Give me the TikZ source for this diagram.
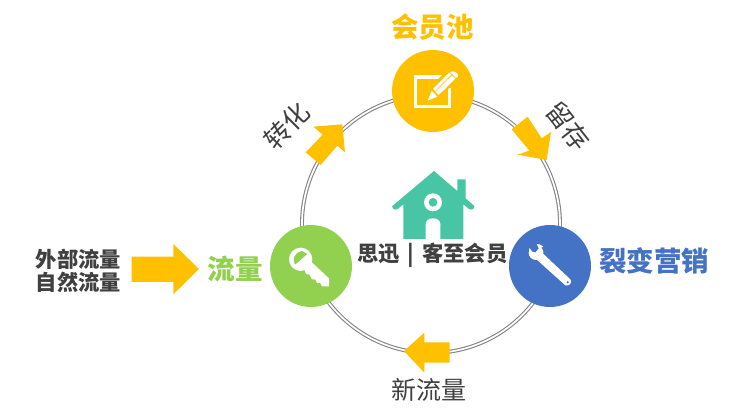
\documentclass[tikz,border=0pt]{standalone}
\usepackage{fontspec}
\setmainfont{Noto Sans CJK SC}
\definecolor{amberc}{HTML}{FFC000}
\definecolor{greenc}{HTML}{92D050}
\definecolor{bluec}{HTML}{4472C4}
\definecolor{tealc}{HTML}{47C5A5}
\definecolor{darktxt}{HTML}{404040}
\definecolor{ringc}{HTML}{858585}
\tikzset{
  hub/.style={circle,draw=none,minimum size=82pt,inner sep=0pt},
  flowarrow/.style={fill=amberc,draw=none},
  lbl/.style={inner sep=0pt,text=darktxt},
  headlbl/.style={inner sep=0pt,font=\bfseries\fontsize{27.5}{30}\selectfont},
  icon/.style={fill=white,draw=none}
}
\begin{document}
\begin{tikzpicture}[x=1pt,y=-1pt]
\useasboundingbox[fill=white] (0,0) rectangle (740,414);
% ring
\coordinate (ringc) at (431,224);
\draw[ringc,line width=3.9pt] (ringc) circle[radius=129];
\draw[white,line width=1.7pt] (ringc) circle[radius=129];
% hubs
\node[hub,fill=amberc] (top) at (433,91) {};
\node[hub,fill=greenc] (left) at (311,266) {};
\node[hub,fill=bluec] (right) at (550,266) {};
% arrows
\begin{scope}[shift={(250,0)},scale=0.33333]
  \fill[flowarrow] (277,373) -- (285,457) -- (262,437) -- (212,495) -- (167,457) -- (218,404) -- (190,380) -- cycle;
  \fill[flowarrow] (833,350) -- (785,388) -- (838,452) -- (803,464) -- (890,480) -- (903,396) -- (875,415) -- cycle;
\end{scope}
\begin{scope}[shift={(380,220)},scale=0.33333]
  \fill[flowarrow] (72,393) -- (133,338) -- (133,367) -- (209,367) -- (209,428) -- (133,428) -- (133,458) -- cycle;
\end{scope}
\begin{scope}[shift={(20,220)},scale=0.33333]
  \fill[flowarrow] (335,110) -- (460,110) -- (460,72) -- (537,147) -- (460,223) -- (460,186) -- (335,186) -- cycle;
\end{scope}
% pencil icon
\begin{scope}[shift={(250,0)},scale=0.33333]
  \draw[white,line width=3.6pt] (582,231) -- (496,231) -- (496,320) -- (599,320) -- (599,264);
  \fill[amberc] (526,308) -- (540,262) -- (606,196) -- (634,226) -- (570,292) -- cycle;
  \fill[icon] (533,302) -- (545,272) -- (562,290) -- cycle;
  \fill[icon] (549,267) -- (598,218) -- (604,224) -- (555,273) -- cycle;
  \fill[icon] (556,275) -- (606,226) -- (616,236) -- (566,285) -- cycle;
  \fill[icon] (600,216) -- (610,214) -- (622,220) -- (624,230) -- (618,234) -- cycle;
\end{scope}
% key icon
\begin{scope}[shift={(260,170)},scale=0.33333]
  \fill[icon] (122,268) circle[radius=35];
  \fill[greenc] (105,284) .. controls (96,268) and (102,248) .. (126,243) -- (142,252) -- cycle;
  \fill[icon] (128,285) -- (146,268) -- (207,325) -- (207,349) -- (186,349) -- (180,338) -- (172,340) -- (165,328) -- (156,328) -- (148,314) -- (138,312) -- cycle;
\end{scope}
% wrench icon
\begin{scope}[shift={(380,220)},scale=0.33333]
  \fill[icon] (468,98) circle[radius=22];
  \fill[icon] (466,115) -- (484,96) -- (571,178) .. controls (578,187) and (568,200) .. (556,196) -- cycle;
  \fill[bluec] (447,76) -- (470,71) -- (476,85) -- (466,97) -- (454,94) -- (441,97) -- cycle;
  \fill[icon] (470,72) .. controls (478,72) and (484,74) .. (490,80) -- (478,86) -- cycle;
  \fill[icon] (447,98) .. controls (447,92) and (447,88) .. (449,84) -- (458,98) -- cycle;
  \fill[bluec] (563,187) circle[radius=3.5];
\end{scope}
% house
\begin{scope}[shift={(260,170)},scale=0.33333]
  \fill[tealc]
    (522,3) -- (592,63) -- (592,28) -- (617,28) -- (617,85) -- (643,108)
    [rounded corners=1.5pt] -- (645,113) -- (632,121) [sharp corners] -- (610,103) -- (610,207)
    -- (541,207) -- (541,160) -- (497,160) -- (497,207) -- (430,207) -- (430,103)
    [rounded corners=1.5pt] -- (408,121) -- (395,113) [sharp corners] -- (397,108) -- cycle;
  \fill[white] (497,165) .. controls (497,150) and (506,145) .. (519,145) .. controls (532,145) and (541,150) .. (541,165) -- cycle;
  \fill[white] (519,97) circle[radius=27];
  \fill[tealc] (519,97) circle[radius=13];
\end{scope}
% labels
\node[headlbl,text=amberc] (ltop) at (432.5,27) {会员池};
\node[headlbl,text=bluec] (lright) at (654,261) {裂变营销};
\node[headlbl,text=greenc] (lleft) at (235,269) {流量};
\node[lbl,font=\bfseries\fontsize{21.3}{24}\selectfont] (lext1) at (78.5,259) {外部流量};
\node[lbl,font=\bfseries\fontsize{21.3}{24}\selectfont] (lext2) at (78.5,282) {自然流量};
\node[lbl,font=\fontsize{25}{28}\selectfont] (lnew) at (429,390) {新流量};
\node[lbl,rotate=45,font=\fontsize{26}{28}\selectfont] (lconv) at (287,126) {转化};
\node[lbl,rotate=-52,font=\fontsize{26}{28}\selectfont] (lkeep) at (568,126) {留存};
\node[lbl,font=\bfseries\fontsize{21.3}{24}\selectfont] (lbrand) at (432.5,255) {思迅\hspace{3pt} | \hspace{3pt}客至会员};
\end{tikzpicture}
\end{document}
